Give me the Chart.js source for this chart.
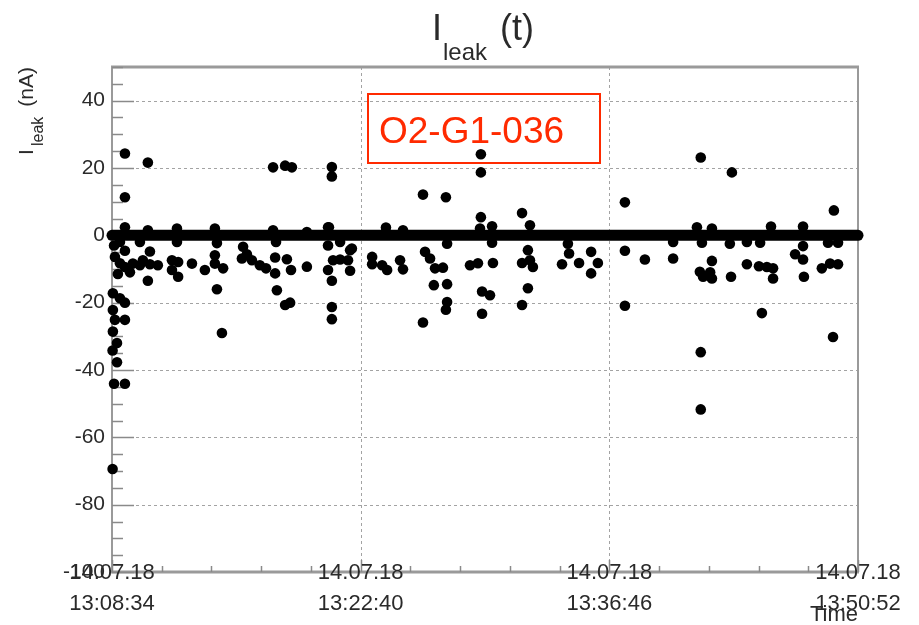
<!DOCTYPE html>
<html>
<head>
<meta charset="utf-8">
<script src="https://cdn.jsdelivr.net/npm/chart.js@4/dist/chart.umd.min.js"></script>
<style>
  html, body { margin: 0; padding: 0; background: #fff; }
  canvas { display: block; }
</style>
</head>
<body>
<canvas id="c" width="919" height="625"></canvas>
<script>
// ---- Data (time in seconds after 14.07.18 13:08:34, leakage current in nA) ----
const tickTimes = [0, 846, 1692, 2538];
const tickDates = ['14.07.18', '14.07.18', '14.07.18', '14.07.18'];
const tickClock = ['13:08:34', '13:22:40', '13:36:46', '13:50:52'];
const yTickValues = [40, 20, 0, -20, -40, -60, -80, -100];

// dense run of readings sitting on 0 nA over the whole period
const baselineTimes = [0, 2538];
const baselineValues = [0, 0];

// individual readings away from the baseline
const times = [
  44, 122, 44, 44, 10, 27, 44, 71, 95, 105, 129, 129, 122, 3, 27, 44, 3, 10, 44, 3, 17, 2, 17, 7, 44, 2, 7, 20, 61,
  156, 204, 225, 204, 225, 272, 316, 350, 350, 378, 357, 374, 446, 459, 442, 476, 503, 524, 555, 555, 561, 595, 609, 589, 606, 548, 589, 612, 663, 735, 748, 752, 776, 810, 803, 810, 748, 748, 748, 748, 735, 816,
  885, 885, 919, 936, 980, 990, 1058, 1136, 1065, 1082, 1099, 1126, 1095, 1140, 1140, 1136, 1058, 1140, 1218, 1245, 1259, 1286, 1259, 1255, 1255, 1255, 1293, 1296, 1395, 1422, 1395, 1415, 1422, 1432, 1415, 1395, 1551, 1555, 1531, 1589, 1630, 1653, 1630, 1745, 1745, 1813, 1745,
  1909, 2003, 2109, 2456, 2007, 2041, 2000, 2011, 2041, 2035, 2106, 2102, 2160, 2201, 2228, 2249, 2249, 2205, 2211, 2324, 2351, 2351, 2354, 2415, 2443, 2470, 2436, 2470, 2453, 2003, 2003,
  44, 122, 221, 350, 548, 663, 735, 932, 990, 1252, 1990, 2041, 2242, 2351, 738,
  27, 95, 221, 357, 558, 776, 1293, 1909, 2160
];
const leak = [
  24.3, 21.6, 11.3, -4.6, -6.4, -8.3, -9.4, -8.4, -8.9, -7.4, -4.8, -8.6, -13.5, -17.2, -18.7, -20, -22.2, -25.1, -25.1, -28.6, -32, -34.2, -37.7, -44.1, -44.1, -69.4, -3, -11.5, -11,
  -8.9, -7.4, -7.9, -10.3, -12.3, -8.4, -10.3, -5.9, -8.4, -9.8, -16, -29, -3.4, -5.6, -6.9, -7.4, -8.9, -9.8, -6.6, -11.3, -16.3, -7.1, -10.3, -20.7, -20, 20.2, 20.7, 20.2, -9.3, -10.3, -13.5, -7.4, -7.2, -4.4, -7.4, -10.5, -21.3, -24.9, 20.3, 17.5, -3, -3.9,
  -6.4, -8.6, -8.9, -10.3, -7.4, -10.1, 12.1, 11.3, -4.9, -6.9, -9.8, -9.6, -14.8, -14.5, -19.8, -22.1, -25.9, -2.5, -8.9, -8.3, -16.7, -17.8, -23.3, 24.1, 18.7, 5.4, 2.7, -8.2, 6.6, 3, -8.2, -4.4, -7.4, -9.4, -15.7, -20.7, -2.5, -5.4, -8.6, -8.2, -4.9, -8.2, -11.3, 9.8, -4.6, -7.2, -20.9,
  -6.9, 23.1, 18.7, 7.4, -2.2, -7.6, -10.8, -12.3, -12.8, -11, -12.3, -2.5, -8.6, -9.2, -9.4, -9.8, -12.8, -2.2, -23.1, -5.6, -3.2, -7.2, -12.3, -9.8, -8.4, -8.6, -2.2, -2.2, -30.2, -34.7, -51.7,
  2.4, 1.5, 2, 2, 1.5, 1, 2.4, 2.3, 1.5, 2, 2.4, 2, 2.6, 2.6, 2.4,
  -2, -2, -2, -2.3, -2, -2, -2.2, -2, -2
];
const chipLabel = 'O2-G1-036';

// ---- Styling ----
const FONT = '"Liberation Sans", Arial, Helvetica, sans-serif';
const TEXT = '#2a2a2a';

const decor = {
  id: 'decor',
  beforeDatasetsDraw(chart) {
    const { ctx, chartArea: a, scales: { x, y } } = chart;
    ctx.save();
    // dashed grid
    ctx.setLineDash([3, 3]);
    ctx.strokeStyle = '#a3a3a3';
    ctx.lineWidth = 1;
    yTickValues.forEach(v => {
      if (v <= y.min || v >= y.max) return;
      const py = Math.round(y.getPixelForValue(v)) + 0.5;
      ctx.beginPath(); ctx.moveTo(a.left, py); ctx.lineTo(a.right, py); ctx.stroke();
    });
    tickTimes.forEach(t => {
      if (t <= x.min || t >= x.max) return;
      const px = Math.round(x.getPixelForValue(t)) + 0.5;
      ctx.beginPath(); ctx.moveTo(px, a.top); ctx.lineTo(px, a.bottom); ctx.stroke();
    });
    ctx.setLineDash([]);
    // frame
    ctx.strokeStyle = '#9a9a9a';
    ctx.lineWidth = 3;
    ctx.beginPath(); ctx.moveTo(a.left - 1, a.top); ctx.lineTo(a.right + 1, a.top); ctx.stroke();
    ctx.beginPath(); ctx.moveTo(a.left - 1, a.bottom); ctx.lineTo(a.right + 1, a.bottom); ctx.stroke();
    ctx.lineWidth = 2;
    ctx.beginPath(); ctx.moveTo(a.left, a.top); ctx.lineTo(a.left, a.bottom); ctx.stroke();
    ctx.beginPath(); ctx.moveTo(a.right, a.top); ctx.lineTo(a.right, a.bottom); ctx.stroke();
    // y ticks (inside)
    ctx.strokeStyle = '#8a8a8a';
    ctx.lineWidth = 1.5;
    for (let v = y.min; v <= y.max; v += 5) {
      const py = Math.round(y.getPixelForValue(v)) + 0.5;
      const len = (v % 20 === 0) ? 22 : 11;
      ctx.beginPath(); ctx.moveTo(a.left, py); ctx.lineTo(a.left + len, py); ctx.stroke();
    }
    // x ticks (inside)
    const step = (tickTimes[1] - tickTimes[0]) / 5;
    for (let i = 0; i <= 15; i++) {
      const px = Math.round(x.getPixelForValue(tickTimes[0] + i * step)) + 0.5;
      const len = (i % 5 === 0) ? 12 : 6;
      ctx.beginPath(); ctx.moveTo(px, a.bottom); ctx.lineTo(px, a.bottom - len); ctx.stroke();
    }
    ctx.restore();
  },
  afterDraw(chart) {
    const { ctx, chartArea: a, scales: { x } } = chart;
    ctx.save();
    // x tick labels: date line over the axis, time line below
    ctx.fillStyle = TEXT;
    ctx.font = '22px ' + FONT;
    ctx.textAlign = 'center';
    ctx.textBaseline = 'middle';
    tickTimes.forEach((t, i) => {
      const px = x.getPixelForValue(t);
      ctx.fillText(tickDates[i], px, a.bottom + 1);
      ctx.fillText(tickClock[i], px, a.bottom + 32);
    });
    ctx.textBaseline = 'alphabetic';

    // label box
    ctx.strokeStyle = '#ff2a00';
    ctx.lineWidth = 2;
    ctx.strokeRect(368, 94, 232, 69);
    ctx.fillStyle = '#ff2a00';
    ctx.font = '37px ' + FONT;
    ctx.textAlign = 'left';
    ctx.fillText(chipLabel, 379, 143);

    // main title  I_leak (t)
    ctx.fillStyle = TEXT;
    ctx.font = '36px ' + FONT;
    ctx.fillText('I', 432, 40);
    ctx.font = '24px ' + FONT;
    ctx.fillText('leak', 443, 60);
    ctx.font = '36px ' + FONT;
    ctx.fillText('(t)', 500, 40);

    // y axis title  I_leak (nA), rotated
    ctx.save();
    ctx.translate(33, 155);
    ctx.rotate(-Math.PI / 2);
    ctx.font = '21px ' + FONT;
    ctx.fillText('I', 0, 0);
    ctx.font = '16px ' + FONT;
    ctx.fillText('leak', 9, 10);
    ctx.font = '21px ' + FONT;
    ctx.textAlign = 'right';
    ctx.fillText('(nA)', 88, 0);
    ctx.restore();

    // x axis title
    ctx.font = '22px ' + FONT;
    ctx.textAlign = 'right';
    ctx.fillStyle = TEXT;
    ctx.fillText('Time', a.right, 621);
    ctx.restore();
  }
};

new Chart(document.getElementById('c'), {
  type: 'scatter',
  data: {
    datasets: [
      {
        type: 'line',
        data: baselineTimes.map((t, i) => ({ x: t, y: baselineValues[i] })),
        borderColor: '#000',
        borderWidth: 11,
        borderCapStyle: 'round',
        pointRadius: 0,
        clip: false
      },
      {
        data: times.map((t, i) => ({ x: t, y: leak[i] })),
        backgroundColor: '#000',
        borderColor: '#000',
        borderWidth: 0,
        pointRadius: 5.3,
        pointHoverRadius: 5.3,
        clip: false
      }
    ]
  },
  options: {
    responsive: false,
    animation: false,
    events: [],
    plugins: { legend: { display: false }, tooltip: { enabled: false } },
    layout: { padding: { top: 67, right: 61, left: 0, bottom: 0 } },
    scales: {
      x: {
        type: 'linear',
        min: tickTimes[0],
        max: tickTimes[tickTimes.length - 1],
        afterBuildTicks: s => { s.ticks = tickTimes.map(v => ({ value: v })); },
        afterFit: s => { s.height = 53; s.paddingLeft = 0; s.paddingRight = 0; },
        grid: { display: false, drawTicks: false },
        border: { display: false },
        ticks: { display: false }
      },
      y: {
        type: 'linear',
        min: -100,
        max: 50,
        afterBuildTicks: s => { s.ticks = yTickValues.map(v => ({ value: v })); },
        afterFit: s => { s.width = 112; s.paddingTop = 0; s.paddingBottom = 0; },
        grid: { display: false, drawTicks: false },
        border: { display: false },
        ticks: {
          padding: 7,
          color: TEXT,
          font: { family: FONT, size: 21 }
        }
      }
    }
  },
  plugins: [decor]
});
</script>
</body>
</html>
